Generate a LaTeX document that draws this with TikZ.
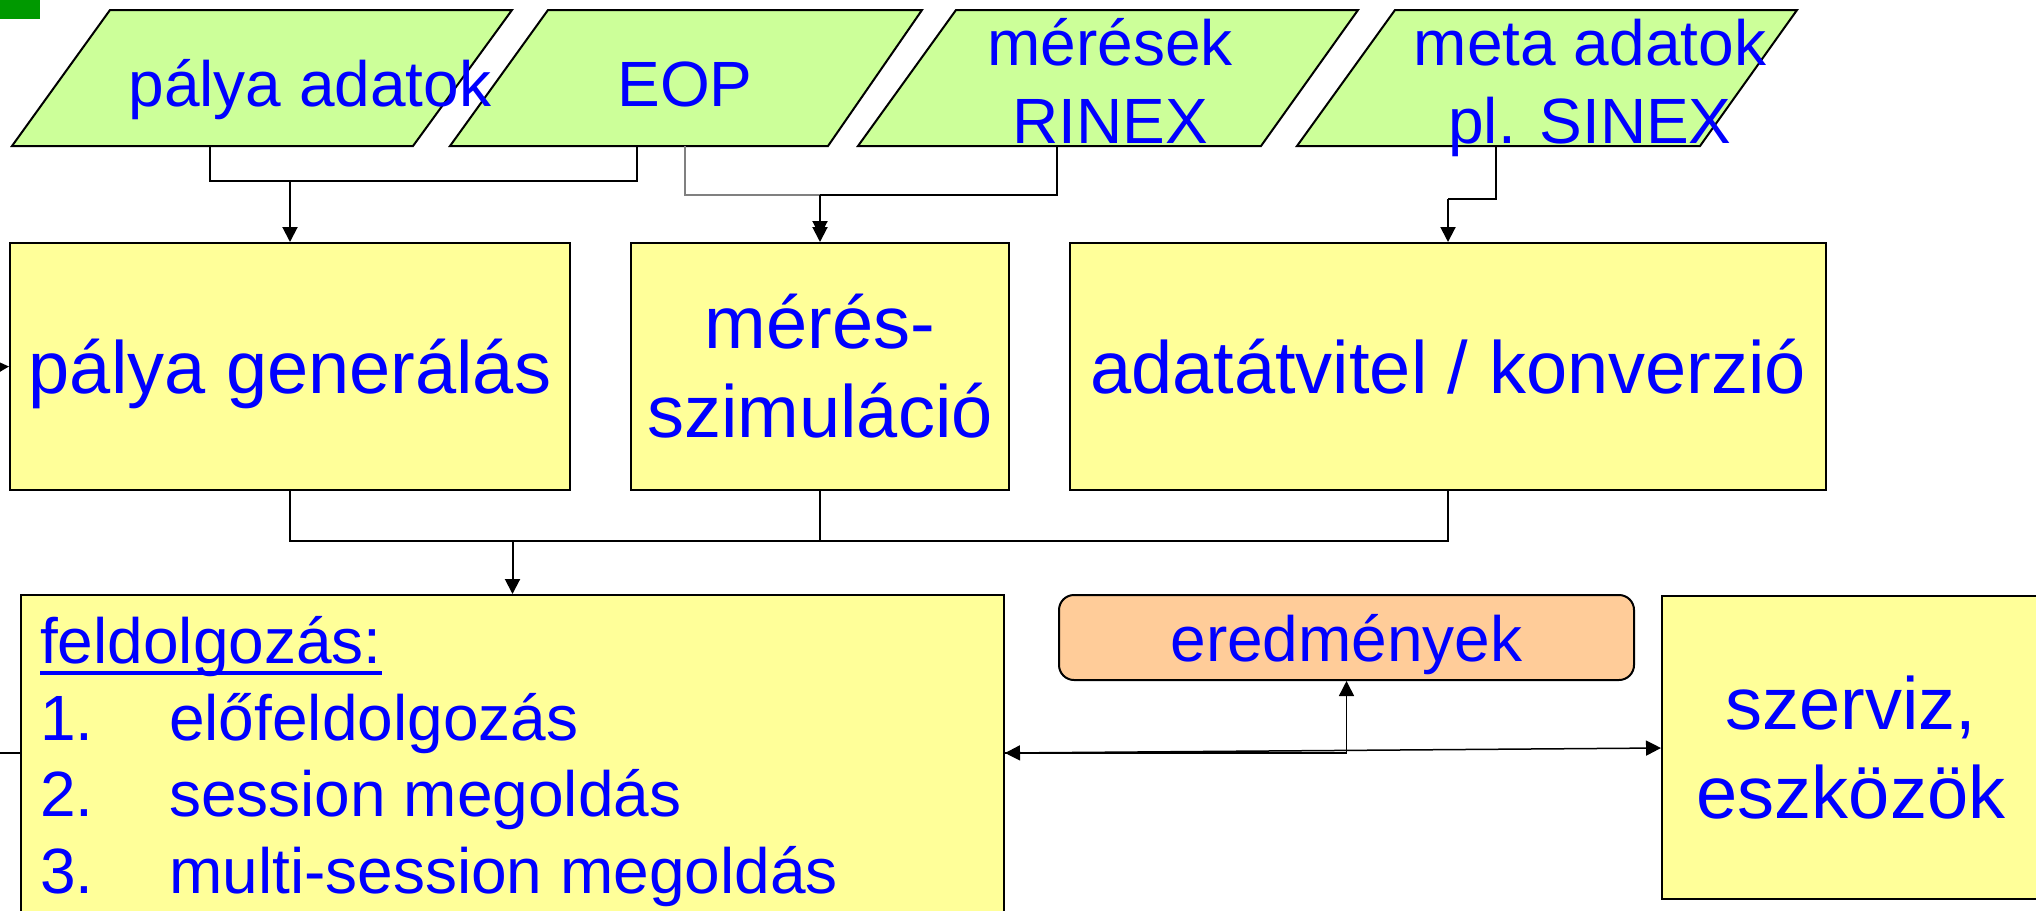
\documentclass[tikz,border=0pt]{standalone}
\usepackage{fontspec}
\setmainfont{Liberation Sans}
\usetikzlibrary{arrows.meta}
\definecolor{txtblue}{RGB}{0,0,255}
\definecolor{paragreen}{RGB}{204,255,153}
\definecolor{boxyellow}{RGB}{255,255,153}
\definecolor{resorange}{RGB}{255,204,153}
\definecolor{markgreen}{RGB}{0,153,0}
\definecolor{wiregray}{RGB}{128,128,128}

\begin{document}
\begin{tikzpicture}[x=1pt,y=-1pt,
  every node/.style={text=txtblue, inner sep=0pt},
  para/.style={draw=black, line width=2pt, fill=paragreen, line join=miter},
  lbl/.style={anchor=base, align=center, font=\fontsize{64}{78}\selectfont},
  listtxt/.style={anchor=base west, font=\fontsize{64}{77}\selectfont},
  procbox/.style={draw=black, line width=2pt, fill=boxyellow, align=center,
    font=\fontsize{74}{89}\selectfont},
  wire/.style={draw=black, line width=2pt},
  thinwire/.style={draw=wiregray, line width=1.3pt},
  feed/.style={wire, -{Triangle[width=15pt,length=15pt]}},
  linkarrow/.style={draw=black, line width=1.5pt},
]
\useasboundingbox (0,0) rectangle (2036,910);

% corner marker
\fill[markgreen] (0,0) rectangle (40,19);

% input data (parallelograms)
\path[para] (12,146) -- (413,146) -- (512,10) -- (110,10) -- cycle;
\path[para] (450,146) -- (828,146) -- (922,10) -- (548,10) -- cycle;
\path[para] (858,146) -- (1261,146) -- (1358,10) -- (956,10) -- cycle;
\path[para] (1297,146) -- (1700,146) -- (1797,10) -- (1395,10) -- cycle;

% labels; for two lines the base anchor sits on the last line
\node[lbl] (orb) at (310,106) {pálya adatok};
\node[lbl] (eop) at (685,106) {EOP};
\node[lbl] (obs) at (1110,143) {mérések\\RINEX};
\node[lbl] (meta) at (1590,143) {meta adatok\\pl. SINEX};

% processing steps
\node[procbox, minimum width=560pt, minimum height=247pt, text depth=0pt] (gen) at (290,366.5) {pálya generálás};
\node[procbox, minimum width=378pt, minimum height=247pt] (sim) at (820,366.5) {mérés-\\szimuláció};
\node[procbox, minimum width=756pt, minimum height=247pt, text depth=0pt] (conv) at (1448,366.5) {adatátvitel / konverzió};

\node[draw=black, line width=2pt, fill=boxyellow, minimum width=983pt, minimum height=345pt] (feld) at (512.5,767.5) {};
\node[listtxt] (fhead) at (40,663) {feldolgozás:};
\draw[txtblue, line width=4.7pt] ([yshift=-10pt]fhead.base west) -- ([yshift=-10pt]fhead.base east);
\node[listtxt] (n1) at (40,740) {1.};
\node[listtxt] (s1) at (169,740) {előfeldolgozás};
\node[listtxt] (n2) at (40,816) {2.};
\node[listtxt] (s2) at (169,816) {session megoldás};
\node[listtxt] (n3) at (40,893) {3.};
\node[listtxt] (s3) at (169,893) {multi-session megoldás};

\node[draw=black, line width=2pt, fill=resorange, rounded corners=15pt,
  minimum width=575pt, minimum height=85pt, text depth=0pt,
  font=\fontsize{64}{77}\selectfont] (res) at (1346.5,637.5) {eredmények};

\node[procbox, minimum width=378pt, minimum height=303pt] (serv) at (1851,747.5) {szerviz,\\eszközök};

% attachment points
\coordinate (orbB) at (210,146);
\coordinate (eopB1) at (637,146);
\coordinate (eopB2) at (685,146);
\coordinate (obsB) at (1057,146);
\coordinate (metaB) at (1496,146);
\coordinate (j1) at (290,181);
\coordinate (j2) at (820,195);
\coordinate (j3) at (1448,199);
\coordinate (j4) at (512.5,541);
\coordinate (inL) at (0,367);
\coordinate (inF) at (0,753);
\coordinate (lvR) at (0,748);

% inputs to the steps
\draw[wire] (orbB) -- (orbB |- j1) -- (eopB1 |- j1) -- (eopB1);
\draw[feed] (j1) -- (gen.north);
\draw[thinwire] (eopB2) -- (eopB2 |- j2) -- (j2);
\draw[wire] (obsB) -- (obsB |- j2) -- (j2);
\draw[feed] (j2) -- (sim.north);
\draw[feed, shorten >=6pt] (j2) -- (sim.north);
\draw[wire] (metaB) -- (metaB |- j3) -- (j3);
\draw[feed] (j3) -- (conv.north);
\draw[feed] (inL) -- (gen.west);

% steps to processing
\draw[wire] (gen.south) -- (gen.south |- j4) -- (conv.south |- j4) -- (conv.south);
\draw[wire] (sim.south) -- (sim.south |- j4);
\draw[feed] (j4) -- (feld.north);

% processing, results and services
\draw[wire] (inF) -- (feld.west |- inF);
\draw[linkarrow, {Triangle[width=15pt,length=15pt]}-{Triangle[width=15pt,length=15pt]}]
  (feld.east |- inF) -- (serv.west |- lvR);
\draw[linkarrow, -{Triangle[width=15pt,length=15pt]}] (feld.east |- inF) -| (res.south);
\end{tikzpicture}
\end{document}
